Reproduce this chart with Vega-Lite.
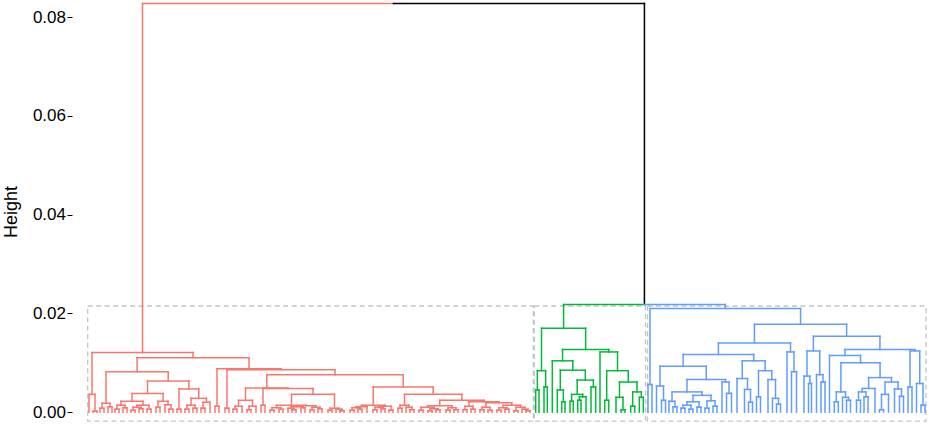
{
  "$schema": "https://vega.github.io/schema/vega-lite/v6.json",
  "width": 857,
  "height": 423,
  "autosize": "none",
  "padding": {"left": 72, "top": 0, "right": 0, "bottom": 3},
  "config": {
    "view": {"stroke": null},
    "axisY": {"domain": false, "grid": false, "ticks": true, "tickSize": 5, "tickColor": "#000000", "tickWidth": 1,
              "labelFont": "Liberation Sans", "labelFontSize": 17, "labelColor": "#000000", "labelPadding": 1.5,
              "titleFont": "Liberation Sans", "titleFontSize": 18, "titleFontWeight": "normal", "titleColor": "#000000", "titlePadding": 12}
  },
  "datasets": {
    "rects": [
      {"x": 87.7, "x2": 533.3, "y": -0.0018, "y2": 0.0215},
      {"x": 534.3, "x2": 645.5, "y": -0.0018, "y2": 0.0215},
      {"x": 647.5, "x2": 926, "y": -0.0018, "y2": 0.0215}
    ],
    "top": [
      {"x": 142.5, "x2": 393.46, "y": 0.0828, "y2": 0.0828, "c": "r"},
      {"x": 393.46, "x2": 644.43, "y": 0.0828, "y2": 0.0828, "c": "k"},
      {"x": 142.5, "x2": 142.5, "y": 0.0121, "y2": 0.0828, "c": "r"},
      {"x": 644.43, "x2": 644.43, "y": 0.0218, "y2": 0.0828, "c": "k"},
      {"x": 563.58, "x2": 644.43, "y": 0.0218, "y2": 0.0218, "c": "g"},
      {"x": 644.43, "x2": 725.28, "y": 0.0218, "y2": 0.0218, "c": "b"},
      {"x": 563.58, "x2": 563.58, "y": 0.0170, "y2": 0.0218, "c": "g"},
      {"x": 725.28, "x2": 725.28, "y": 0.0210, "y2": 0.0218, "c": "b"}
    ],
    "nodes": [
      {"a": 93, "b": 97, "h": 0.0002, "ha": 0, "hb": 0, "c": "r"},
      {"a": 89, "b": 95, "h": 0.0036, "ha": 0, "hb": 0.0002, "c": "r"},
      {"a": 100, "b": 104, "h": 0.0008, "ha": 0, "hb": 0, "c": "r"},
      {"a": 108, "b": 112, "h": 0.0011, "ha": 0, "hb": 0, "c": "r"},
      {"a": 102, "b": 110, "h": 0.0018, "ha": 0.0008, "hb": 0.0011, "c": "r"},
      {"a": 115, "b": 119, "h": 0.0006, "ha": 0, "hb": 0, "c": "r"},
      {"a": 123, "b": 127, "h": 0.0009, "ha": 0, "hb": 0, "c": "r"},
      {"a": 117, "b": 125, "h": 0.0014, "ha": 0.0006, "hb": 0.0009, "c": "r"},
      {"a": 131, "b": 135, "h": 0.0004, "ha": 0, "hb": 0, "c": "r"},
      {"a": 139, "b": 143, "h": 0.0007, "ha": 0, "hb": 0, "c": "r"},
      {"a": 133, "b": 141, "h": 0.0010, "ha": 0.0004, "hb": 0.0007, "c": "r"},
      {"a": 147, "b": 151, "h": 0.0006, "ha": 0, "hb": 0, "c": "r"},
      {"a": 137, "b": 149, "h": 0.0014, "ha": 0.0010, "hb": 0.0006, "c": "r"},
      {"a": 121, "b": 143, "h": 0.0022, "ha": 0.0014, "hb": 0.0014, "c": "r"},
      {"a": 156, "b": 160, "h": 0.0010, "ha": 0, "hb": 0, "c": "r"},
      {"a": 169, "b": 173, "h": 0.0006, "ha": 0, "hb": 0, "c": "r"},
      {"a": 165, "b": 171, "h": 0.0015, "ha": 0, "hb": 0.0006, "c": "r"},
      {"a": 158, "b": 168, "h": 0.0022, "ha": 0.0010, "hb": 0.0015, "c": "r"},
      {"a": 132, "b": 163, "h": 0.0038, "ha": 0.0022, "hb": 0.0022, "c": "r"},
      {"a": 177, "b": 181, "h": 0.0006, "ha": 0, "hb": 0, "c": "r"},
      {"a": 185, "b": 189, "h": 0.0006, "ha": 0, "hb": 0, "c": "r"},
      {"a": 193, "b": 197, "h": 0.0008, "ha": 0, "hb": 0, "c": "r"},
      {"a": 187, "b": 195, "h": 0.0014, "ha": 0.0006, "hb": 0.0008, "c": "r"},
      {"a": 201, "b": 205, "h": 0.0008, "ha": 0, "hb": 0, "c": "r"},
      {"a": 203, "b": 210, "h": 0.0020, "ha": 0.0008, "hb": 0, "c": "r"},
      {"a": 191, "b": 206.5, "h": 0.0028, "ha": 0.0014, "hb": 0.0020, "c": "r"},
      {"a": 179, "b": 198.75, "h": 0.0047, "ha": 0.0006, "hb": 0.0028, "c": "r"},
      {"a": 147.5, "b": 188.875, "h": 0.0063, "ha": 0.0038, "hb": 0.0047, "c": "r"},
      {"a": 106, "b": 168.19, "h": 0.0082, "ha": 0.0018, "hb": 0.0063, "c": "r"},
      {"a": 215, "b": 219, "h": 0.0012, "ha": 0, "hb": 0, "c": "r"},
      {"a": 225, "b": 229, "h": 0.0008, "ha": 0, "hb": 0, "c": "r"},
      {"a": 233, "b": 237, "h": 0.0006, "ha": 0, "hb": 0, "c": "r"},
      {"a": 235, "b": 242, "h": 0.0012, "ha": 0.0006, "hb": 0, "c": "r"},
      {"a": 247, "b": 251, "h": 0.0005, "ha": 0, "hb": 0, "c": "r"},
      {"a": 249, "b": 256, "h": 0.0012, "ha": 0.0005, "hb": 0, "c": "r"},
      {"a": 238.5, "b": 252.5, "h": 0.0024, "ha": 0.0012, "hb": 0.0012, "c": "r"},
      {"a": 261, "b": 265, "h": 0.0014, "ha": 0, "hb": 0, "c": "r"},
      {"a": 270, "b": 274, "h": 0.0004, "ha": 0, "hb": 0, "c": "r"},
      {"a": 279, "b": 283, "h": 0.0006, "ha": 0, "hb": 0, "c": "r"},
      {"a": 272, "b": 281, "h": 0.0009, "ha": 0.0004, "hb": 0.0006, "c": "r"},
      {"a": 292, "b": 296, "h": 0.0005, "ha": 0, "hb": 0, "c": "r"},
      {"a": 288, "b": 294, "h": 0.0008, "ha": 0, "hb": 0.0005, "c": "r"},
      {"a": 301, "b": 305, "h": 0.0009, "ha": 0, "hb": 0, "c": "r"},
      {"a": 291, "b": 303, "h": 0.0011, "ha": 0.0008, "hb": 0.0009, "c": "r"},
      {"a": 310, "b": 314, "h": 0.0005, "ha": 0, "hb": 0, "c": "r"},
      {"a": 318, "b": 322, "h": 0.0007, "ha": 0, "hb": 0, "c": "r"},
      {"a": 312, "b": 320, "h": 0.0010, "ha": 0.0005, "hb": 0.0007, "c": "r"},
      {"a": 297, "b": 316, "h": 0.0013, "ha": 0.0011, "hb": 0.0010, "c": "r"},
      {"a": 276.5, "b": 306.5, "h": 0.0014, "ha": 0.0009, "hb": 0.0013, "c": "r"},
      {"a": 328, "b": 332, "h": 0.0004, "ha": 0, "hb": 0, "c": "r"},
      {"a": 340, "b": 344, "h": 0.0003, "ha": 0, "hb": 0, "c": "r"},
      {"a": 336, "b": 342, "h": 0.0006, "ha": 0, "hb": 0.0003, "c": "r"},
      {"a": 330, "b": 339, "h": 0.0008, "ha": 0.0004, "hb": 0.0006, "c": "r"},
      {"a": 291.5, "b": 334.5, "h": 0.0036, "ha": 0.0014, "hb": 0.0008, "c": "r"},
      {"a": 263, "b": 313, "h": 0.0048, "ha": 0.0014, "hb": 0.0036, "c": "r"},
      {"a": 245.5, "b": 288, "h": 0.0049, "ha": 0.0024, "hb": 0.0048, "c": "r"},
      {"a": 350, "b": 354, "h": 0.0004, "ha": 0, "hb": 0, "c": "r"},
      {"a": 358, "b": 362, "h": 0.0006, "ha": 0, "hb": 0, "c": "r"},
      {"a": 352, "b": 360, "h": 0.0009, "ha": 0.0004, "hb": 0.0006, "c": "r"},
      {"a": 356, "b": 367, "h": 0.0011, "ha": 0.0009, "hb": 0, "c": "r"},
      {"a": 373, "b": 377, "h": 0.0005, "ha": 0, "hb": 0, "c": "r"},
      {"a": 381, "b": 385, "h": 0.0007, "ha": 0, "hb": 0, "c": "r"},
      {"a": 375, "b": 383, "h": 0.0010, "ha": 0.0005, "hb": 0.0007, "c": "r"},
      {"a": 389, "b": 393, "h": 0.0004, "ha": 0, "hb": 0, "c": "r"},
      {"a": 379, "b": 391, "h": 0.0012, "ha": 0.0010, "hb": 0.0004, "c": "r"},
      {"a": 361.5, "b": 385, "h": 0.0014, "ha": 0.0011, "hb": 0.0012, "c": "r"},
      {"a": 398, "b": 402, "h": 0.0008, "ha": 0, "hb": 0, "c": "r"},
      {"a": 410, "b": 414, "h": 0.0005, "ha": 0, "hb": 0, "c": "r"},
      {"a": 406, "b": 412, "h": 0.0010, "ha": 0, "hb": 0.0005, "c": "r"},
      {"a": 400, "b": 409, "h": 0.0014, "ha": 0.0008, "hb": 0.0010, "c": "r"},
      {"a": 419, "b": 423, "h": 0.0004, "ha": 0, "hb": 0, "c": "r"},
      {"a": 428, "b": 432, "h": 0.0003, "ha": 0, "hb": 0, "c": "r"},
      {"a": 436, "b": 440, "h": 0.0005, "ha": 0, "hb": 0, "c": "r"},
      {"a": 430, "b": 438, "h": 0.0007, "ha": 0.0003, "hb": 0.0005, "c": "r"},
      {"a": 421, "b": 434, "h": 0.0010, "ha": 0.0004, "hb": 0.0007, "c": "r"},
      {"a": 446, "b": 450, "h": 0.0004, "ha": 0, "hb": 0, "c": "r"},
      {"a": 454, "b": 458, "h": 0.0005, "ha": 0, "hb": 0, "c": "r"},
      {"a": 448, "b": 456, "h": 0.0009, "ha": 0.0004, "hb": 0.0005, "c": "r"},
      {"a": 427.5, "b": 452, "h": 0.0013, "ha": 0.0010, "hb": 0.0009, "c": "r"},
      {"a": 463, "b": 467, "h": 0.0005, "ha": 0, "hb": 0, "c": "r"},
      {"a": 471, "b": 475, "h": 0.0006, "ha": 0, "hb": 0, "c": "r"},
      {"a": 465, "b": 473, "h": 0.0012, "ha": 0.0005, "hb": 0.0006, "c": "r"},
      {"a": 480, "b": 484, "h": 0.0005, "ha": 0, "hb": 0, "c": "r"},
      {"a": 488, "b": 492, "h": 0.0004, "ha": 0, "hb": 0, "c": "r"},
      {"a": 482, "b": 490, "h": 0.0010, "ha": 0.0005, "hb": 0.0004, "c": "r"},
      {"a": 497, "b": 501, "h": 0.0004, "ha": 0, "hb": 0, "c": "r"},
      {"a": 505, "b": 509, "h": 0.0006, "ha": 0, "hb": 0, "c": "r"},
      {"a": 499, "b": 507, "h": 0.0009, "ha": 0.0004, "hb": 0.0006, "c": "r"},
      {"a": 514, "b": 518, "h": 0.0003, "ha": 0, "hb": 0, "c": "r"},
      {"a": 526, "b": 530, "h": 0.0003, "ha": 0, "hb": 0, "c": "r"},
      {"a": 522, "b": 528, "h": 0.0006, "ha": 0, "hb": 0.0003, "c": "r"},
      {"a": 516, "b": 525, "h": 0.0010, "ha": 0.0003, "hb": 0.0006, "c": "r"},
      {"a": 503, "b": 520.5, "h": 0.0014, "ha": 0.0009, "hb": 0.0010, "c": "r"},
      {"a": 486, "b": 511.75, "h": 0.0019, "ha": 0.0010, "hb": 0.0014, "c": "r"},
      {"a": 469, "b": 498.875, "h": 0.0021, "ha": 0.0012, "hb": 0.0019, "c": "r"},
      {"a": 439.75, "b": 483.94, "h": 0.0024, "ha": 0.0013, "hb": 0.0021, "c": "r"},
      {"a": 404.5, "b": 461.85, "h": 0.0036, "ha": 0.0014, "hb": 0.0024, "c": "r"},
      {"a": 373.25, "b": 433.18, "h": 0.0051, "ha": 0.0014, "hb": 0.0036, "c": "r"},
      {"a": 266.75, "b": 403.2, "h": 0.0076, "ha": 0.0049, "hb": 0.0051, "c": "r"},
      {"a": 227, "b": 334.98, "h": 0.0086, "ha": 0.0008, "hb": 0.0076, "c": "r"},
      {"a": 217, "b": 281, "h": 0.0088, "ha": 0.0012, "hb": 0.0086, "c": "r"},
      {"a": 137.1, "b": 249, "h": 0.0110, "ha": 0.0082, "hb": 0.0088, "c": "r"},
      {"a": 92, "b": 193.05, "h": 0.0121, "ha": 0.0036, "hb": 0.0110, "c": "r"},

      {"a": 535.7, "b": 539, "h": 0.0045, "ha": 0, "hb": 0, "c": "g"},
      {"a": 544, "b": 547.3, "h": 0.0051, "ha": 0, "hb": 0, "c": "g"},
      {"a": 537.35, "b": 545.65, "h": 0.0084, "ha": 0.0045, "hb": 0.0051, "c": "g"},
      {"a": 561.7, "b": 565, "h": 0.0021, "ha": 0, "hb": 0, "c": "g"},
      {"a": 557.3, "b": 563.35, "h": 0.0045, "ha": 0, "hb": 0.0021, "c": "g"},
      {"a": 570, "b": 573.3, "h": 0.0022, "ha": 0, "hb": 0, "c": "g"},
      {"a": 577.7, "b": 581, "h": 0.0024, "ha": 0, "hb": 0, "c": "g"},
      {"a": 579.35, "b": 586, "h": 0.0031, "ha": 0.0024, "hb": 0, "c": "g"},
      {"a": 571.65, "b": 582.7, "h": 0.0036, "ha": 0.0022, "hb": 0.0031, "c": "g"},
      {"a": 591, "b": 595.7, "h": 0.0051, "ha": 0, "hb": 0, "c": "g"},
      {"a": 577.2, "b": 593.35, "h": 0.0065, "ha": 0.0036, "hb": 0.0051, "c": "g"},
      {"a": 560.3, "b": 585.3, "h": 0.0085, "ha": 0.0045, "hb": 0.0065, "c": "g"},
      {"a": 552.3, "b": 572.8, "h": 0.0104, "ha": 0, "hb": 0.0085, "c": "g"},
      {"a": 604.7, "b": 608.7, "h": 0.0024, "ha": 0, "hb": 0, "c": "g"},
      {"a": 621, "b": 625, "h": 0.0005, "ha": 0, "hb": 0, "c": "g"},
      {"a": 616, "b": 623, "h": 0.0030, "ha": 0, "hb": 0.0005, "c": "g"},
      {"a": 630.7, "b": 634.7, "h": 0.0012, "ha": 0, "hb": 0, "c": "g"},
      {"a": 639.3, "b": 643.3, "h": 0.0030, "ha": 0, "hb": 0, "c": "g"},
      {"a": 632.7, "b": 641.3, "h": 0.0041, "ha": 0.0012, "hb": 0.0030, "c": "g"},
      {"a": 619.5, "b": 637, "h": 0.0061, "ha": 0.0030, "hb": 0.0041, "c": "g"},
      {"a": 606.7, "b": 628.25, "h": 0.0084, "ha": 0.0024, "hb": 0.0061, "c": "g"},
      {"a": 600, "b": 617.5, "h": 0.0122, "ha": 0, "hb": 0.0084, "c": "g"},
      {"a": 562.55, "b": 608.75, "h": 0.0127, "ha": 0.0104, "hb": 0.0122, "c": "g"},
      {"a": 541.5, "b": 585.65, "h": 0.0170, "ha": 0.0084, "hb": 0.0127, "c": "g"},

      {"a": 648, "b": 652, "h": 0.0056, "ha": 0, "hb": 0, "c": "b"},
      {"a": 661.5, "b": 665.5, "h": 0.0024, "ha": 0, "hb": 0, "c": "b"},
      {"a": 656.5, "b": 663.5, "h": 0.0053, "ha": 0, "hb": 0.0024, "c": "b"},
      {"a": 673, "b": 677, "h": 0.0011, "ha": 0, "hb": 0, "c": "b"},
      {"a": 669, "b": 675, "h": 0.0022, "ha": 0, "hb": 0.0011, "c": "b"},
      {"a": 681, "b": 685, "h": 0.0008, "ha": 0, "hb": 0, "c": "b"},
      {"a": 689, "b": 693, "h": 0.0006, "ha": 0, "hb": 0, "c": "b"},
      {"a": 683, "b": 691, "h": 0.0014, "ha": 0.0008, "hb": 0.0006, "c": "b"},
      {"a": 697, "b": 701, "h": 0.0010, "ha": 0, "hb": 0, "c": "b"},
      {"a": 687, "b": 699, "h": 0.0021, "ha": 0.0014, "hb": 0.0010, "c": "b"},
      {"a": 705, "b": 709, "h": 0.0008, "ha": 0, "hb": 0, "c": "b"},
      {"a": 713, "b": 717, "h": 0.0012, "ha": 0, "hb": 0, "c": "b"},
      {"a": 707, "b": 715, "h": 0.0023, "ha": 0.0008, "hb": 0.0012, "c": "b"},
      {"a": 693, "b": 711, "h": 0.0034, "ha": 0.0021, "hb": 0.0023, "c": "b"},
      {"a": 672, "b": 702, "h": 0.0041, "ha": 0.0022, "hb": 0.0034, "c": "b"},
      {"a": 726.5, "b": 731.5, "h": 0.0038, "ha": 0, "hb": 0, "c": "b"},
      {"a": 722, "b": 729, "h": 0.0061, "ha": 0, "hb": 0.0038, "c": "b"},
      {"a": 687, "b": 725.5, "h": 0.0066, "ha": 0.0041, "hb": 0.0061, "c": "b"},
      {"a": 660, "b": 706.25, "h": 0.0093, "ha": 0.0053, "hb": 0.0066, "c": "b"},
      {"a": 748.5, "b": 752.5, "h": 0.0020, "ha": 0, "hb": 0, "c": "b"},
      {"a": 744.5, "b": 750.5, "h": 0.0046, "ha": 0, "hb": 0.0020, "c": "b"},
      {"a": 737, "b": 747.5, "h": 0.0068, "ha": 0, "hb": 0.0046, "c": "b"},
      {"a": 756.5, "b": 760.5, "h": 0.0031, "ha": 0, "hb": 0, "c": "b"},
      {"a": 776.5, "b": 780.5, "h": 0.0016, "ha": 0, "hb": 0, "c": "b"},
      {"a": 772.5, "b": 778.5, "h": 0.0028, "ha": 0, "hb": 0.0016, "c": "b"},
      {"a": 768, "b": 775.5, "h": 0.0066, "ha": 0, "hb": 0.0028, "c": "b"},
      {"a": 758.5, "b": 771.75, "h": 0.0084, "ha": 0.0031, "hb": 0.0066, "c": "b"},
      {"a": 742.25, "b": 765.125, "h": 0.0104, "ha": 0.0068, "hb": 0.0084, "c": "b"},
      {"a": 683.125, "b": 753.69, "h": 0.0117, "ha": 0.0093, "hb": 0.0104, "c": "b"},
      {"a": 791.5, "b": 796.5, "h": 0.0082, "ha": 0, "hb": 0, "c": "b"},
      {"a": 787, "b": 794, "h": 0.0122, "ha": 0, "hb": 0.0082, "c": "b"},
      {"a": 718.41, "b": 790.5, "h": 0.0140, "ha": 0.0117, "hb": 0.0122, "c": "b"},
      {"a": 808.5, "b": 811.5, "h": 0.0058, "ha": 0, "hb": 0, "c": "b"},
      {"a": 804, "b": 810, "h": 0.0073, "ha": 0, "hb": 0.0058, "c": "b"},
      {"a": 821, "b": 825, "h": 0.0061, "ha": 0, "hb": 0, "c": "b"},
      {"a": 816.5, "b": 823, "h": 0.0076, "ha": 0, "hb": 0.0061, "c": "b"},
      {"a": 807, "b": 819.75, "h": 0.0124, "ha": 0.0073, "hb": 0.0076, "c": "b"},
      {"a": 834.3, "b": 838.3, "h": 0.0021, "ha": 0, "hb": 0, "c": "b"},
      {"a": 846.5, "b": 850.5, "h": 0.0024, "ha": 0, "hb": 0, "c": "b"},
      {"a": 842.5, "b": 848.5, "h": 0.0030, "ha": 0, "hb": 0.0024, "c": "b"},
      {"a": 836.3, "b": 845.5, "h": 0.0041, "ha": 0.0021, "hb": 0.0030, "c": "b"},
      {"a": 856.5, "b": 860.5, "h": 0.0024, "ha": 0, "hb": 0, "c": "b"},
      {"a": 864, "b": 868, "h": 0.0031, "ha": 0, "hb": 0, "c": "b"},
      {"a": 858.5, "b": 866, "h": 0.0041, "ha": 0.0024, "hb": 0.0031, "c": "b"},
      {"a": 862.25, "b": 875, "h": 0.0048, "ha": 0.0041, "hb": 0, "c": "b"},
      {"a": 879.5, "b": 883.5, "h": 0.0005, "ha": 0, "hb": 0, "c": "b"},
      {"a": 881.5, "b": 888.5, "h": 0.0036, "ha": 0.0005, "hb": 0, "c": "b"},
      {"a": 899.5, "b": 903.5, "h": 0.0032, "ha": 0, "hb": 0, "c": "b"},
      {"a": 894.5, "b": 901.5, "h": 0.0047, "ha": 0, "hb": 0.0032, "c": "b"},
      {"a": 885, "b": 898, "h": 0.0061, "ha": 0.0036, "hb": 0.0047, "c": "b"},
      {"a": 868.625, "b": 891.5, "h": 0.0070, "ha": 0.0048, "hb": 0.0061, "c": "b"},
      {"a": 840.9, "b": 880.06, "h": 0.0100, "ha": 0.0041, "hb": 0.0070, "c": "b"},
      {"a": 829.5, "b": 860.48, "h": 0.0115, "ha": 0, "hb": 0.0100, "c": "b"},
      {"a": 908, "b": 912, "h": 0.0051, "ha": 0, "hb": 0, "c": "b"},
      {"a": 921, "b": 925, "h": 0.0014, "ha": 0, "hb": 0, "c": "b"},
      {"a": 916.5, "b": 923, "h": 0.0058, "ha": 0, "hb": 0.0014, "c": "b"},
      {"a": 910, "b": 919.75, "h": 0.0124, "ha": 0.0051, "hb": 0.0058, "c": "b"},
      {"a": 844.99, "b": 914.875, "h": 0.0127, "ha": 0.0115, "hb": 0.0124, "c": "b"},
      {"a": 813.375, "b": 879.93, "h": 0.0154, "ha": 0.0124, "hb": 0.0127, "c": "b"},
      {"a": 754.455, "b": 846.65, "h": 0.0178, "ha": 0.0140, "hb": 0.0154, "c": "b"},
      {"a": 650, "b": 800.55, "h": 0.0210, "ha": 0.0056, "hb": 0.0178, "c": "b"}
    ]
  },
  "layer": [
    {
      "data": {"name": "rects"},
      "mark": {"type": "rect", "fillOpacity": 0, "stroke": "#C4C4C4", "strokeWidth": 1.3, "strokeDash": [5, 3.5]},
      "encoding": {
        "x": {"field": "x", "type": "quantitative", "scale": {"domain": [72, 929], "nice": false, "zero": false}, "axis": null},
        "x2": {"field": "x2"},
        "y": {"field": "y", "type": "quantitative", "scale": {"domain": [-0.0022, 0.0835], "nice": false, "zero": false},
              "axis": {"title": "Height", "values": [0, 0.02, 0.04, 0.06, 0.08], "format": ".2f"}},
        "y2": {"field": "y2"}
      }
    },
    {
      "data": {"name": "nodes"},
      "mark": {"type": "rule", "strokeWidth": 1.5, "strokeCap": "square"},
      "encoding": {
        "x": {"field": "a", "type": "quantitative", "axis": null},
        "x2": {"field": "b"},
        "y": {"field": "h", "type": "quantitative", "axis": {"title": "Height", "values": [0, 0.02, 0.04, 0.06, 0.08], "format": ".2f"}},
        "color": {"field": "c", "type": "nominal", "scale": {"domain": ["r", "g", "b", "k"], "range": ["#F8766D", "#00BA38", "#619CFF", "#000000"]}, "legend": null}
      }
    },
    {
      "data": {"name": "nodes"},
      "mark": {"type": "rule", "strokeWidth": 1.5, "strokeCap": "square"},
      "encoding": {
        "x": {"field": "a", "type": "quantitative", "axis": null},
        "y": {"field": "ha", "type": "quantitative", "axis": {"title": "Height", "values": [0, 0.02, 0.04, 0.06, 0.08], "format": ".2f"}},
        "y2": {"field": "h"},
        "color": {"field": "c", "type": "nominal", "legend": null}
      }
    },
    {
      "data": {"name": "nodes"},
      "mark": {"type": "rule", "strokeWidth": 1.5, "strokeCap": "square"},
      "encoding": {
        "x": {"field": "b", "type": "quantitative", "axis": null},
        "y": {"field": "hb", "type": "quantitative", "axis": {"title": "Height", "values": [0, 0.02, 0.04, 0.06, 0.08], "format": ".2f"}},
        "y2": {"field": "h"},
        "color": {"field": "c", "type": "nominal", "legend": null}
      }
    },
    {
      "data": {"name": "top"},
      "mark": {"type": "rule", "strokeWidth": 1.5, "strokeCap": "square"},
      "encoding": {
        "x": {"field": "x", "type": "quantitative", "axis": null},
        "x2": {"field": "x2"},
        "y": {"field": "y", "type": "quantitative", "axis": {"title": "Height", "values": [0, 0.02, 0.04, 0.06, 0.08], "format": ".2f"}},
        "y2": {"field": "y2"},
        "color": {"field": "c", "type": "nominal", "legend": null}
      }
    }
  ]
}
